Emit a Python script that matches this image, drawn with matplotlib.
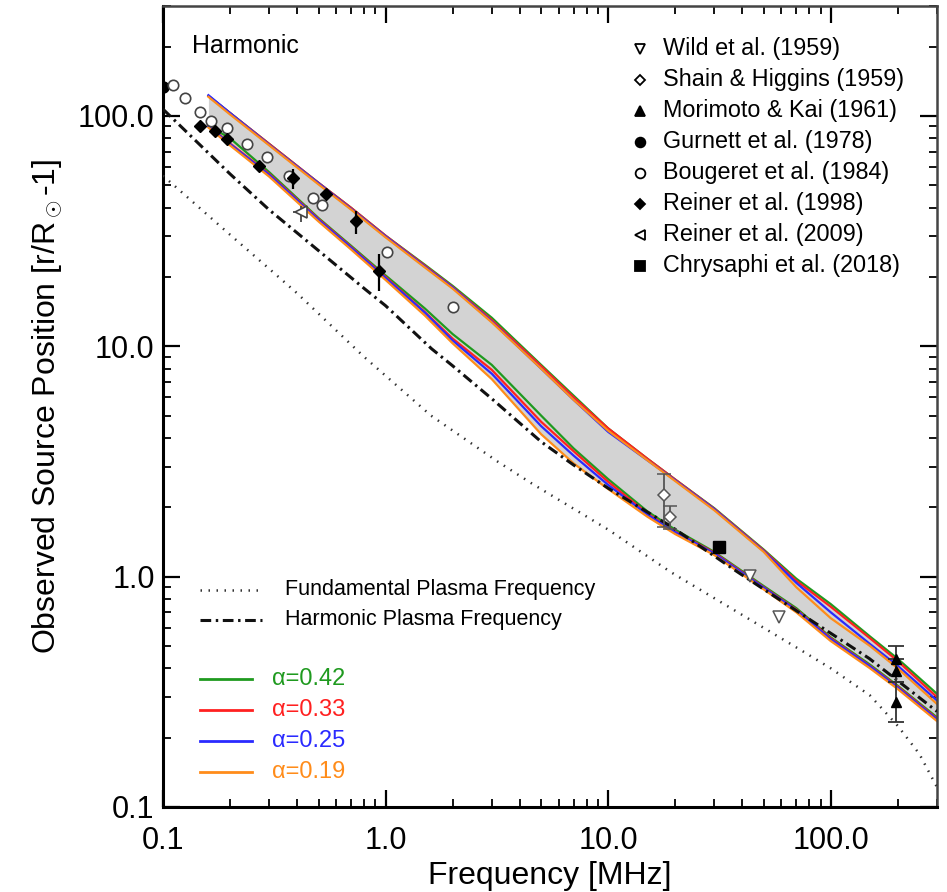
import numpy as np
import matplotlib
matplotlib.use("Agg")
import matplotlib.pyplot as plt
from matplotlib.ticker import FixedLocator, FixedFormatter, LogLocator, NullFormatter

plt.rcParams['font.family'] = ['Liberation Sans', 'DejaVu Sans']
plt.rcParams['mathtext.fontset'] = 'custom'
plt.rcParams['mathtext.rm'] = 'Liberation Sans'
plt.rcParams['mathtext.it'] = 'Liberation Sans:italic'

# ---------------- model curves (frequency in MHz, r/Rsun - 1) ----------------
freq_model = [0.16, 0.2, 0.3, 0.5, 0.7, 1.0, 1.5, 2, 3, 5, 7, 10, 15, 20, 30, 50, 70, 100, 150, 200, 300]

upper_042 = [122, 103, 75.6, 51.2, 39.9, 30.2, 22.6, 18.3, 13.3, 8.3, 6.1, 4.4, 3.25, 2.64, 1.98, 1.31, 0.98, 0.76, 0.55, 0.44, 0.31]
lower_042 = [90.5, 80, 57, 36, 27.3, 20.3, 14.6, 11.3, 8.3, 5.0, 3.6, 2.65, 1.92, 1.6, 1.28, 0.91, 0.73, 0.545, 0.415, 0.336, 0.245]

upper_033 = [122, 103, 75.6, 51.2, 39.9, 30.2, 22.4, 18.1, 13.0, 8.2, 6.0, 4.4, 3.25, 2.64, 1.97, 1.3, 0.96, 0.74, 0.54, 0.43, 0.30]
lower_033 = [90.5, 76, 56, 35.7, 27.0, 20.0, 14.1, 10.8, 7.9, 4.7, 3.5, 2.58, 1.88, 1.57, 1.27, 0.90, 0.72, 0.54, 0.41, 0.333, 0.242]

upper_025 = [123, 103, 75, 51, 39.5, 30, 22.2, 18.0, 12.8, 8.0, 5.85, 4.25, 3.2, 2.62, 1.96, 1.29, 0.94, 0.70, 0.51, 0.41, 0.29]
lower_025 = [90, 75.5, 55.5, 35.4, 26.8, 19.8, 14.0, 10.6, 7.6, 4.5, 3.35, 2.5, 1.86, 1.56, 1.26, 0.895, 0.715, 0.535, 0.408, 0.33, 0.24]

upper_019 = [121, 101.5, 74.5, 50.4, 39.2, 29.7, 22.0, 17.8, 12.7, 8.0, 5.85, 4.3, 3.2, 2.6, 1.94, 1.28, 0.90, 0.66, 0.50, 0.40, 0.28]
lower_019 = [89, 74.5, 54.5, 34.8, 26.3, 19.4, 13.6, 10.3, 7.2, 4.15, 3.1, 2.4, 1.82, 1.53, 1.24, 0.88, 0.70, 0.525, 0.40, 0.325, 0.236]

alpha_labels = ['α=0.42', 'α=0.33', 'α=0.25', 'α=0.19']
alpha_colors = ['#1f9a1f', '#ff2020', '#2a2aff', '#ff8c1a']

# plasma-frequency levels
freq_fund = [0.1, 0.2, 0.3, 0.4, 0.8, 1.6, 3.2, 4.5, 10, 19, 76, 100, 150, 200, 250, 300]
r_fund = [55, 30.5, 21.7, 17.0, 9.0, 5.0, 3.15, 2.55, 1.6, 1.05, 0.47, 0.40, 0.305, 0.225, 0.17, 0.122]

freq_harm = [0.1, 0.2, 0.3, 0.408, 0.5, 0.814, 1.0, 1.61, 2.0, 3.0, 5.0, 7.0, 10, 19, 38, 75.7, 149, 300]
r_harm = [107, 56, 39.1, 30.6, 26.0, 17.6, 15.0, 9.75, 8.23, 5.92, 3.85, 3.05, 2.42, 1.66, 1.05, 0.677, 0.441, 0.26]

# ---------------- observations ----------------
wild_f = [43.4, 58.5]
wild_r = [1.01, 0.67]

shain_f = [17.9, 19.0]
shain_r = [2.25, 1.82]
shain_lo = [1.65, 1.61]
shain_hi = [2.80, 2.03]

mori_f = [197, 197, 197]
mori_r = [0.441, 0.391, 0.287]
mori_lo = [0.35, 0.35, 0.235]
mori_hi = [0.50, 0.44, 0.35]

gurnett_f = [0.1]
gurnett_r = [133]

bougeret_f = [0.111, 0.126, 0.147, 0.165, 0.194, 0.239, 0.294, 0.368, 0.471, 0.517, 1.01, 2.01]
bougeret_r = [136, 119, 104, 95.1, 88.7, 75.6, 66.4, 54.9, 44.1, 41.1, 25.7, 14.8]

reiner98_f = [0.147, 0.172, 0.194, 0.270, 0.384, 0.539, 0.734, 0.930]
reiner98_r = [90.5, 86.1, 79.5, 60.7, 53.8, 45.9, 35.0, 21.3]
reiner98_lo = [90.5, 86.1, 79.5, 60.7, 48.2, 45.9, 30.8, 17.4]
reiner98_hi = [90.5, 86.1, 79.5, 60.7, 58.9, 45.9, 38.7, 25.2]

reiner09_f = [0.417]
reiner09_r = [38.3]
reiner09_flo = [0.385]
reiner09_fhi = [0.425]
reiner09_lo = [34.5]
reiner09_hi = [40.5]

chrys_f = [31.6]
chrys_r = [1.35]

# ---------------- figure ----------------
fig = plt.figure(figsize=(9.47, 8.92), dpi=100)
ax = fig.add_axes([0.1721, 0.0953, 0.8173, 0.8980])
ax.set_xscale('log')
ax.set_yscale('log')
ax.set_xlim(0.1, 300)
ax.set_ylim(0.1, 300)

uppers = [upper_042, upper_033, upper_025, upper_019]
lowers = [lower_042, lower_033, lower_025, lower_019]
env_hi = np.max(np.array(uppers), axis=0)
env_lo = np.min(np.array(lowers), axis=0)
ax.fill_between(freq_model, env_lo, env_hi, color='#d3d3d3', lw=0, zorder=1)

for up, lo, col in zip(uppers, lowers, alpha_colors):
    ax.plot(freq_model, up, color=col, lw=1.6, zorder=2)
    ax.plot(freq_model, lo, color=col, lw=1.6, zorder=2)

fund_style = dict(color='#333333', lw=1.8, dashes=(0.6, 2.6))
harm_style = dict(color='#111111', lw=2.2, dashes=(3.5, 1.5, 0.8, 1.5))
ax.plot(freq_fund, r_fund, zorder=3, **fund_style)
ax.plot(freq_harm, r_harm, zorder=3, **harm_style)


def asym(vals, lo, hi):
    v = np.array(vals)
    return [v - np.array(lo), np.array(hi) - v]


ax.plot(wild_f, wild_r, 'v', ms=8, mfc='white', mec='#555555', mew=1.1, zorder=5)
ax.errorbar(shain_f, shain_r, yerr=asym(shain_r, shain_lo, shain_hi), fmt='D', ms=6.5,
            mfc='white', mec='#555555', mew=1.1, ecolor='#555555', elinewidth=1.3,
            capsize=5, capthick=1.3, zorder=5)
ax.errorbar(mori_f, mori_r, yerr=asym(mori_r, mori_lo, mori_hi), fmt='^', ms=7,
            mfc='black', mec='black', ecolor='#333333', elinewidth=1.3,
            capsize=6, capthick=1.3, zorder=5)
ax.plot(gurnett_f, gurnett_r, 'o', ms=8, mfc='black', mec='black', zorder=5, clip_on=True)
ax.plot(bougeret_f, bougeret_r, 'o', ms=7.5, mfc='white', mec='#444444', mew=1.2, zorder=5)
ax.errorbar(reiner98_f, reiner98_r, yerr=asym(reiner98_r, reiner98_lo, reiner98_hi),
            fmt='D', ms=6.5, mfc='black', mec='black', ecolor='black', elinewidth=1.6,
            capsize=0, zorder=5)
ax.errorbar(reiner09_f, reiner09_r,
            xerr=asym(reiner09_f, reiner09_flo, reiner09_fhi),
            yerr=asym(reiner09_r, reiner09_lo, reiner09_hi),
            fmt='<', ms=9, mfc='white', mec='#444444', mew=1.2, ecolor='#444444',
            elinewidth=1.3, capsize=0, zorder=5)
ax.plot(chrys_f, chrys_r, 's', ms=8, mfc='black', mec='black', zorder=5)

# ---------------- axes styling ----------------
ax.xaxis.set_major_locator(FixedLocator([0.1, 1, 10, 100]))
ax.xaxis.set_major_formatter(FixedFormatter(['0.1', '1.0', '10.0', '100.0']))
ax.yaxis.set_major_locator(FixedLocator([0.1, 1, 10, 100]))
ax.yaxis.set_major_formatter(FixedFormatter(['0.1', '1.0', '10.0', '100.0']))
for axis in (ax.xaxis, ax.yaxis):
    axis.set_minor_locator(LogLocator(base=10, subs=np.arange(2, 10)))
    axis.set_minor_formatter(NullFormatter())

ax.tick_params(which='both', direction='in', top=True, right=True, color='black')
ax.tick_params(which='major', length=12, width=1.6, labelsize=22)
ax.tick_params(which='minor', length=6, width=1.3)
ax.tick_params(axis='x', which='major', pad=14)
ax.tick_params(axis='y', which='major', pad=6)
for side in ('left', 'bottom'):
    ax.spines[side].set_linewidth(2.2)
for side in ('top', 'right'):
    ax.spines[side].set_linewidth(1.8)
    ax.spines[side].set_color('#444444')

ax.set_xlabel('Frequency [MHz]', fontsize=23, labelpad=3)
ax.set_ylabel(r'Observed Source Position [r/R$_\odot$-1]', fontsize=23, labelpad=10)

ax.text(0.0375, 0.950, 'Harmonic', transform=ax.transAxes, fontsize=18,
        ha='left', va='center')

# ---------------- legends ----------------
obs_entries = [
    ('Wild et al. (1959)', dict(marker='v', mfc='white', mec='black')),
    ('Shain & Higgins (1959)', dict(marker='D', mfc='white', mec='black')),
    ('Morimoto & Kai (1961)', dict(marker='^', mfc='black', mec='black')),
    ('Gurnett et al. (1978)', dict(marker='o', mfc='black', mec='black')),
    ('Bougeret et al. (1984)', dict(marker='o', mfc='white', mec='black')),
    ('Reiner et al. (1998)', dict(marker='D', mfc='black', mec='black')),
    ('Reiner et al. (2009)', dict(marker='<', mfc='white', mec='black')),
    ('Chrysaphi et al. (2018)', dict(marker='s', mfc='black', mec='black')),
]
y0 = 0.9463
dy = 0.0387
for i, (lab, st) in enumerate(obs_entries):
    yy = y0 - i * dy
    ms = 5.5 if st['marker'] == 'D' else 7
    ax.plot([0.6163], [yy], transform=ax.transAxes, ls='none', ms=ms, mew=1.3,
            clip_on=False, zorder=6, **st)
    ax.text(0.646, yy, lab, transform=ax.transAxes, fontsize=16.8, ha='left', va='center')

ax.plot([0.0478, 0.1279], [0.2709, 0.2709], transform=ax.transAxes, **fund_style)
ax.text(0.1576, 0.2709, 'Fundamental Plasma Frequency', transform=ax.transAxes,
        fontsize=15.5, ha='left', va='center')
ax.plot([0.0478, 0.1279], [0.2335, 0.2335], transform=ax.transAxes, **harm_style)
ax.text(0.1576, 0.2335, 'Harmonic Plasma Frequency', transform=ax.transAxes,
        fontsize=15.5, ha='left', va='center')

alpha_y = [0.1598, 0.1211, 0.0824, 0.0437]
for lab, col, yy in zip(alpha_labels, alpha_colors, alpha_y):
    ax.plot([0.0478, 0.115], [yy, yy], transform=ax.transAxes, color=col, lw=2)
    ax.text(0.1408, yy, lab, transform=ax.transAxes, fontsize=17, color=col,
            ha='left', va='center')

fig.savefig('out.png', dpi=100)
